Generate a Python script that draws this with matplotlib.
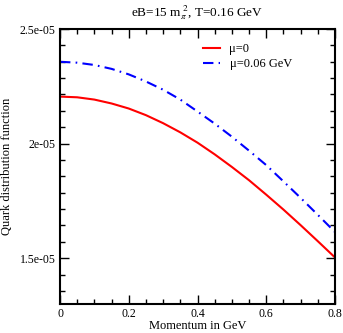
import matplotlib
matplotlib.use("Agg")
import matplotlib.pyplot as plt
from matplotlib.ticker import AutoMinorLocator

# momentum (GeV) and quark distribution function values
momentum = [0.00, 0.05, 0.10, 0.15, 0.20, 0.25, 0.30, 0.35, 0.40,
            0.45, 0.50, 0.55, 0.60, 0.65, 0.70, 0.75, 0.80]
f_mu0 = [2.205e-5, 2.202e-5, 2.192e-5, 2.175e-5, 2.153e-5, 2.124e-5, 2.089e-5, 2.049e-5, 2.004e-5,
         1.953e-5, 1.898e-5, 1.840e-5, 1.777e-5, 1.712e-5, 1.644e-5, 1.574e-5, 1.503e-5]
f_mu006 = [2.357e-5, 2.353e-5, 2.343e-5, 2.326e-5, 2.302e-5, 2.271e-5, 2.235e-5, 2.192e-5, 2.140e-5,
           2.087e-5, 2.030e-5, 1.969e-5, 1.906e-5, 1.835e-5, 1.763e-5, 1.689e-5, 1.614e-5]
labels = ["\u03bc=0", "\u03bc=0.06 GeV"]
xticks = [0, 0.2, 0.4, 0.6, 0.8]
xticklabels = ['0', '0.2', '0.4', '0.6', '0.8']
yticks = [1.5e-5, 2e-5, 2.5e-5]
yticklabels = ['1.5e-05', '2e-05', '2.5e-05']

plt.rcParams['font.family'] = 'Liberation Serif'
plt.rcParams['mathtext.fontset'] = 'stix'
plt.rcParams['font.size'] = 9

fig = plt.figure(figsize=(3.43, 3.33), dpi=100)
ax = fig.add_axes([60/343, 1 - 304/333, 275/343, 275/333])

ax.plot(momentum, f_mu0, color='#ff0000', lw=1.5, label=labels[0])
ax.plot(momentum, f_mu006, color='#0000ff', lw=1.5, dashes=(5, 2.5, 0.8, 2.5),
        label=labels[1])

ax.set_xlim(0, 0.8)
ax.set_ylim(1.3e-5, 2.5e-5)
ax.set_xticks(xticks)
ax.set_xticklabels(xticklabels)
ax.set_yticks(yticks)
ax.set_yticklabels(yticklabels)
ax.xaxis.set_minor_locator(AutoMinorLocator(4))
ax.yaxis.set_minor_locator(AutoMinorLocator(7))

ax.tick_params(which='both', direction='in', top=True, right=True, width=1.0,
               labelsize=8.5)
ax.tick_params(which='major', length=6.5, pad=3)
ax.tick_params(which='minor', length=3.5)
for s in ax.spines.values():
    s.set_linewidth(1.5)

ax.set_xlabel('Momentum in GeV', labelpad=0)
ax.set_ylabel('Quark distribution function', labelpad=5)
ax.set_title(r'eB=15 m$_\pi^{\ 2}$, T=0.16 GeV', pad=9, fontsize=9.5)

ax.legend(loc='upper left', bbox_to_anchor=(0.48, 0.99), frameon=False,
          handlelength=1.3, handletextpad=0.8, labelspacing=0.25)

fig.savefig('out.png', dpi=100)
